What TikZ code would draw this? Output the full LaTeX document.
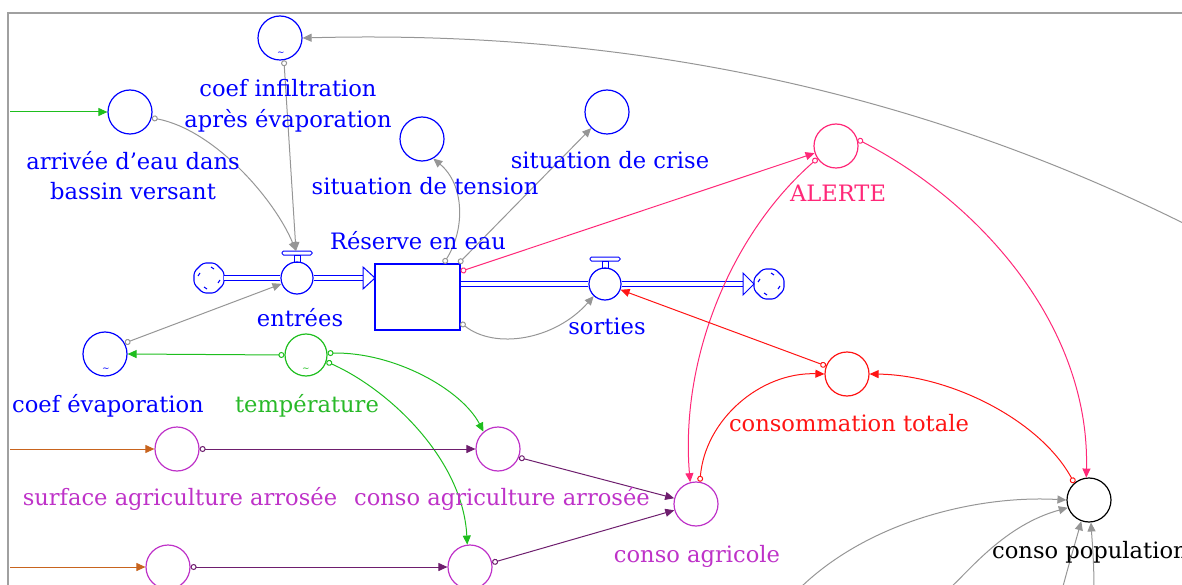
\documentclass[tikz,border=0pt]{standalone}
\usepackage{fontspec}
\setmainfont{DejaVu Serif}
\usetikzlibrary{arrows.meta}
\definecolor{vblue}{RGB}{0,0,255}
\definecolor{vgray}{RGB}{150,150,150}
\definecolor{vgreen}{RGB}{30,190,30}
\definecolor{tgreen}{RGB}{40,185,40}
\definecolor{vpink}{RGB}{255,40,120}
\definecolor{vred}{RGB}{255,20,20}
\definecolor{vmag}{RGB}{190,50,200}
\definecolor{vpurp}{RGB}{110,30,110}
\definecolor{vorange}{RGB}{200,100,30}
\definecolor{vframe}{RGB}{160,160,160}
\tikzset{
 vcloud/.pic={
  \draw[vblue, line width=1.1pt, rounded corners=3pt] (-15,-6)--(-6,-15)--(6,-15)--(15,-6)--(15,6)--(6,15)--(-6,15)--(-15,6)--cycle;
  \draw[vblue, line width=1.1pt] (2,-11)--(5,-9) (11,2)--(9,5) (-2,11)--(-5,9) (-11,-2)--(-9,-5);
 }
}
\begin{document}
\begin{tikzpicture}[x=1pt,y=-1pt,
 aux/.style={circle, draw, line width=1.2pt, minimum size=44pt, inner sep=0pt},
 valve/.style={circle, draw=vblue, line width=1.2pt, minimum size=32pt, inner sep=0pt},
 lbl/.style={font=\fontsize{22.6}{26}\selectfont, anchor=base, inner sep=0pt},
 til/.style={font=\fontsize{9}{9}\selectfont, inner sep=0pt},
 link/.style={line width=1pt, {Circle[open,length=6pt,width=6pt]}-{Triangle[length=9pt,width=8pt]}},
 plain/.style={line width=1pt, -{Triangle[length=9pt,width=8pt]}},
 pipe/.style={draw=vblue, line width=1pt, double, double distance=3.5pt},
]
\useasboundingbox (0,0) rectangle (1182,585);
\begin{scope}
\clip (0,0) rectangle (1182,585);
\draw[vframe, line width=2pt] (8,590) -- (8,13) -- (1190,13);

% auxiliaries
\node[aux, draw=vblue] (infil) at (280,38) {};
\node[aux, draw=vblue] (arrivee) at (130,112) {};
\node[aux, draw=vblue] (tension) at (422,139) {};
\node[aux, draw=vblue] (crise) at (607,112) {};
\node[aux, draw=vpink] (alerte) at (836,146) {};
\node[aux, draw=vblue] (coefevap) at (105,354) {};
\node[aux, draw=vgreen, minimum size=42pt] (temp) at (306,355) {};
\node[aux, draw=vred] (totale) at (847,374) {};
\node[aux, draw=vmag] (surface) at (177,449) {};
\node[aux, draw=vmag] (consoarr) at (498,449) {};
\node[aux, draw=vmag] (agricole) at (696,504) {};
\node[aux, draw=black] (pop) at (1089,500) {};
\node[aux, draw=vmag] (surface2) at (168,567) {};
\node[aux, draw=vmag] (conso2) at (470,567) {};

\node[til, text=vblue] (tilA) at (281,54) {\textasciitilde};
\node[til, text=vblue] (tilB) at (106,370) {\textasciitilde};
\node[til, text=vgreen] (tilC) at (306,370) {\textasciitilde};

% stock, valves, clouds
\node[rectangle, draw=vblue, line width=1.2pt, minimum width=85pt, minimum height=66pt, inner sep=0pt] (stock) at (417.5,297) {};
\node[valve] (entrees) at (297,278) {};
\node[valve] (sorties) at (605,284) {};
\node[circle, minimum size=30pt, inner sep=0pt] (cloudL) at (209,278) {};
\node[circle, minimum size=30pt, inner sep=0pt] (cloudR) at (769,284) {};
\pic at (cloudL) {vcloud};
\pic at (cloudR) {vcloud};
\draw[vblue, line width=1pt] (294,255) rectangle (300,262);
\draw[vblue, line width=1pt, rounded corners=1.5pt] (282,251) rectangle (312,255);
\draw[vblue, line width=1pt] (602,261) rectangle (608,268);
\draw[vblue, line width=1pt, rounded corners=1.5pt] (590,257) rectangle (620,261);
\coordinate (entreesTop) at (296,251);

% pipes
\draw[pipe] (cloudL.east) -- (entrees.west);
\coordinate (inHead) at (363,278);
\draw[pipe] (entrees.east) -- (inHead);
\draw[vblue, line width=1pt, fill=white] (363,267) -- (375,278) -- (363,289) -- cycle;
\draw[pipe] (stock.east |- sorties.west) -- (sorties.west);
\coordinate (outHead) at (743,284);
\draw[pipe] (sorties.east) -- (outHead);
\draw[vblue, line width=1pt, fill=white] (743,273) -- (754,284) -- (743,295) -- cycle;

% links
\coordinate (srcA) at (10,112);
\draw[plain, vgreen] (srcA) -- (arrivee.west);
\draw[link, vgray] (arrivee.-15) .. controls (215,130) and (275,200) .. (entreesTop);
\draw[link, vgray] (infil.-80) -- (entreesTop);
\coordinate (farR) at (1195,229);
\draw[plain, vgray] (farR) .. controls (900,80) and (600,30) .. (infil.east);
\draw[link, vgray] (coefevap.29) -- (entrees);
\draw[link, vgray] ([yshift=8pt]stock.south east) .. controls (495,350) and (555,340) .. (sorties.227);
\draw[link, vgray] ([xshift=-17pt]stock.north east) .. controls (465,230) and (465,185) .. (tension.-60);
\draw[link, vgray] ([xshift=-2pt]stock.north east) -- (crise);
\draw[link, vpink] ([yshift=-8pt]stock.north east) -- (alerte);
\draw[link, vpink] (alerte.214) .. controls (730,235) and (680,360) .. (agricole.105);
\draw[link, vpink] (alerte.17) .. controls (985,205) and (1090,330) .. (pop.97);
\draw[link, vred] (totale.159) -- (sorties);
\draw[link, vred] (agricole.80) .. controls (705,420) and (760,372) .. (totale.180);
\draw[link, vred] (pop.131) .. controls (1040,420) and (950,375) .. (totale.0);
\draw[link, vgreen] (temp.180) -- (coefevap.0);
\draw[link, vgreen] (temp.5) .. controls (395,352) and (462,390) .. (consoarr.130);
\draw[link, vgreen] (temp.-18) .. controls (390,390) and (463,460) .. (conso2.97);
\coordinate (srcS) at (10,449);
\coordinate (srcS2) at (10,567);
\draw[plain, vorange] (srcS) -- (surface.west);
\draw[plain, vorange] (srcS2) -- (surface2.west);
\draw[link, vpurp] (surface.0) -- (consoarr.180);
\draw[link, vpurp] (surface2.0) -- (conso2.180);
\draw[link, vpurp] (consoarr.-22) -- (agricole);
\draw[link, vpurp] (conso2.11) -- (agricole);
\coordinate (g1) at (800,588);
\coordinate (g2) at (950,588);
\coordinate (g3) at (1062,590);
\coordinate (g4) at (1094,590);
\draw[plain, vgray] (g1) .. controls (870,520) and (980,495) .. (pop.180);
\draw[plain, vgray] (g2) .. controls (970,570) and (1005,525) .. (pop.200);
\draw[plain, vgray] (g3) .. controls (1070,560) and (1076,540) .. (pop.250);
\draw[plain, vgray] (g4) .. controls (1094,560) and (1092,540) .. (pop.275);

% labels
\node[lbl, text=vblue] (infilL1) at (288,97) {coef infiltration};
\node[lbl, text=vblue] (infilL2) at (288,128) {après évaporation};
\node[lbl, text=vblue] (arriveeL1) at (133,170) {arrivée d'eau dans};
\node[lbl, text=vblue] (arriveeL2) at (133,200) {bassin versant};
\node[lbl, text=vblue] (tensionL) at (425,195) {situation de tension};
\node[lbl, text=vblue] (criseL) at (610,169) {situation de crise};
\node[lbl, text=vblue] (stockL) at (418,249) {Réserve en eau};
\node[lbl, text=vpink] (alerteL) at (838,202) {ALERTE};
\node[lbl, text=vblue] (entreesL) at (300,326) {entrées};
\node[lbl, text=vblue] (sortiesL) at (607,334) {sorties};
\node[lbl, text=vblue] (coefevapL) at (108,412) {coef évaporation};
\node[lbl, text=tgreen] (tempL) at (307,412) {température};
\node[lbl, text=vred] (totaleL) at (849,431) {consommation totale};
\node[lbl, text=vmag] (surfaceL) at (180,505) {surface agriculture arrosée};
\node[lbl, text=vmag] (consoarrL) at (502,505) {conso agriculture arrosée};
\node[lbl, text=vmag] (agricoleL) at (697,562) {conso agricole};
\node[lbl, text=black, anchor=base west] (popL) at (992,558) {conso population};
\end{scope}
\end{tikzpicture}
\end{document}
